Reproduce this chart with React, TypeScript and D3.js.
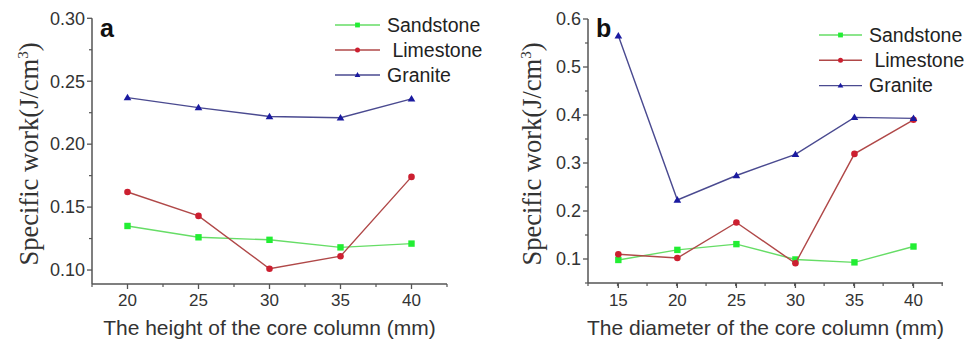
import React from "react";
import * as d3 from "d3";

const series = ["Sandstone", " Limestone", "Granite"];
const colors = {
  line: ["#66dd66", "#b04848", "#4a4a90"],
  mark: ["#22ee33", "#cc1f30", "#1a1aa0"]
};

// panel a: height of core column
const heightX = [20, 25, 30, 35, 40];
const heightSandstone = [0.135, 0.126, 0.124, 0.118, 0.121];
const heightLimestone = [0.162, 0.143, 0.101, 0.111, 0.174];
const heightGranite = [0.237, 0.229, 0.222, 0.221, 0.236];
const heightYTicks = [0.1, 0.15, 0.2, 0.25, 0.3];

// panel b: diameter of core column
const diamX = [15, 20, 25, 30, 35, 40];
const diamSandstone = [0.098, 0.119, 0.131, 0.099, 0.093, 0.126];
const diamLimestone = [0.11, 0.102, 0.176, 0.091, 0.319, 0.39];
const diamGranite = [0.565, 0.223, 0.274, 0.318, 0.395, 0.393];
const diamYTicks = [0.1, 0.2, 0.3, 0.4, 0.5, 0.6];

const sans = "'Liberation Sans', Arial, sans-serif";

function Marker({ kind, x, y, s }) {
  if (kind === 0)
    return <rect x={x - s} y={y - s} width={2 * s} height={2 * s} fill={colors.mark[0]} />;
  if (kind === 1) return <circle cx={x} cy={y} r={s} fill={colors.mark[1]} />;
  const h = s * 1.2;
  return (
    <path
      d={`M${x},${y - h}L${x + h},${y + h * 0.7}L${x - h},${y + h * 0.7}Z`}
      fill={colors.mark[2]}
    />
  );
}

function Panel(props) {
  const { left, right, top, bottom, xDomain, yDomain, xs, ys, yTicks, yFmt, letter, xTitle, legend, titleX } = props;
  const x = d3.scaleLinear().domain(xDomain).range([left, right]);
  const y = d3.scaleLinear().domain(yDomain).range([bottom, top]);
  const line = d3
    .line<number>()
    .x((d, i) => x(xs[i]))
    .y(d => y(d));
  const xMinor = d3.range(xDomain[0], xDomain[1] + 0.01, 2.5).filter(v => !xs.includes(v));
  const step = yTicks[1] - yTicks[0];
  const yMinor = yTicks.slice(0, -1).map(v => v + step / 2);
  if (yDomain[0] < yTicks[0] - step / 2 + 1e-6) yMinor.push(yTicks[0] - step / 2);
  const axisCol = "#555";

  return (
    <g>
      <line x1={left} x2={left} y1={top} y2={bottom} stroke={axisCol} strokeWidth={1.5} />
      <line x1={left} x2={right} y1={bottom} y2={bottom} stroke={axisCol} strokeWidth={1.5} />
      {yTicks.map(t => (
        <g key={t}>
          <line x1={left - 5} x2={left} y1={y(t)} y2={y(t)} stroke={axisCol} strokeWidth={1.3} />
          <text x={left - 7} y={y(t)} dy="0.35em" textAnchor="end" fontFamily={sans} fontSize={18} fill="#333">
            {yFmt(t)}
          </text>
        </g>
      ))}
      {yMinor.map(t => (
        <line key={t} x1={left - 3} x2={left} y1={y(t)} y2={y(t)} stroke={axisCol} strokeWidth={1.2} />
      ))}
      {xs.map(t => (
        <g key={t}>
          <line x1={x(t)} x2={x(t)} y1={bottom} y2={bottom + 5} stroke={axisCol} strokeWidth={1.3} />
          <text x={x(t)} y={300} dy="0.35em" textAnchor="middle" fontFamily={sans} fontSize={17} fill="#333">
            {t}
          </text>
        </g>
      ))}
      {xMinor.map(t => (
        <line key={t} x1={x(t)} x2={x(t)} y1={bottom} y2={bottom + 3} stroke={axisCol} strokeWidth={1.2} />
      ))}
      <text x={(left + right) / 2} y={335} textAnchor="middle" fontFamily={sans} fontSize={21} fill="#333">
        {xTitle}
      </text>
      <text
        transform={`translate(${titleX},154) rotate(-90)`}
        textAnchor="middle"
        fontFamily="'Liberation Serif', 'Times New Roman', serif"
        fontSize={26.5}
        fill="#333"
      >
        Specific work(J/cm<tspan dy="-10" fontSize={15}>3</tspan>
        <tspan dy="10">)</tspan>
      </text>
      <text x={left + 8} y={37} fontFamily={sans} fontWeight="bold" fontSize={25} fill="#111">
        {letter}
      </text>
      {ys.map((vals, k) => (
        <g key={k}>
          <path d={line(vals) || ""} fill="none" stroke={colors.line[k]} strokeWidth={1.4} />
          {vals.map((v, i) => (
            <Marker key={i} kind={k} x={x(xs[i])} y={y(v)} s={k === 1 ? 3.3 : 3.2} />
          ))}
        </g>
      ))}
      {series.map((name, k) => {
        const ly = legend.y + k * legend.dy;
        return (
          <g key={name}>
            <line x1={legend.x0} x2={legend.x1} y1={ly} y2={ly} stroke={colors.line[k]} strokeWidth={1.4} />
            <Marker kind={k} x={(legend.x0 + legend.x1) / 2} y={ly} s={k === 1 ? 2.5 : 2.4} />
            <text x={legend.tx} y={ly} dy="0.35em" fontFamily={sans} fontSize={19.5} fill="#222" style={{ whiteSpace: "pre" }}>
              {name}
            </text>
          </g>
        );
      })}
    </g>
  );
}

export default function App() {
  return (
    <svg width={978} height={341} style={{ position: "absolute", left: 0, top: 0, background: "#fff" }}>
      <Panel
        left={92}
        right={447}
        top={18.3}
        bottom={284}
        xDomain={[17.5, 42.5]}
        yDomain={[0.0889, 0.3]}
        xs={heightX}
        ys={[heightSandstone, heightLimestone, heightGranite]}
        yTicks={heightYTicks}
        yFmt={d3.format(".2f")}
        letter="a"
        xTitle="The height of the core column (mm)"
        titleX={38}
        legend={{ x0: 335, x1: 380, tx: 387, y: 25, dy: 25 }}
      />
      <Panel
        left={588}
        right={943}
        top={19}
        bottom={283}
        xDomain={[12.43, 42.5]}
        yDomain={[0.05, 0.6]}
        xs={diamX}
        ys={[diamSandstone, diamLimestone, diamGranite]}
        yTicks={diamYTicks}
        yFmt={d3.format(".1f")}
        letter="b"
        xTitle="The diameter of the core column (mm)"
        titleX={541}
        legend={{ x0: 819, x1: 862, tx: 869, y: 35, dy: 25.3 }}
      />
    </svg>
  );
}
